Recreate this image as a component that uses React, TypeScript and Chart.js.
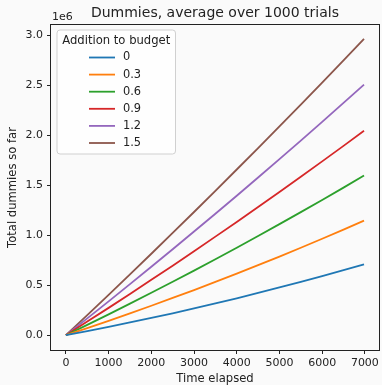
import React, { useEffect, useRef } from "react";
import { Chart, registerables } from "chart.js";

Chart.register(...registerables);

// Time steps (x) and average totals in millions (y)
const timeSteps = [0, 500, 1000, 1500, 2000, 2500, 3000, 3500, 4000, 4500, 5000, 5500, 6000, 6500, 6980];
const budget0 = [0, 0.041, 0.083, 0.127, 0.172, 0.219, 0.268, 0.318, 0.369, 0.422, 0.477, 0.533, 0.591, 0.650, 0.708];
const budget03 = [0, 0.071, 0.143, 0.218, 0.294, 0.372, 0.451, 0.532, 0.615, 0.700, 0.786, 0.874, 0.964, 1.055, 1.145];
const budget06 = [0, 0.103, 0.208, 0.315, 0.424, 0.534, 0.645, 0.759, 0.874, 0.991, 1.110, 1.230, 1.352, 1.475, 1.596];
const budget09 = [0, 0.136, 0.273, 0.412, 0.553, 0.695, 0.839, 0.985, 1.132, 1.281, 1.431, 1.583, 1.737, 1.892, 2.043];
const budget12 = [0, 0.168, 0.338, 0.510, 0.684, 0.859, 1.036, 1.214, 1.394, 1.576, 1.760, 1.945, 2.132, 2.321, 2.504];
const budget15 = [0, 0.201, 0.403, 0.608, 0.814, 1.022, 1.231, 1.443, 1.656, 1.870, 2.087, 2.305, 2.525, 2.747, 2.962];

const seriesLabels = ["0", "0.3", "0.6", "0.9", "1.2", "1.5"];
const seriesValues = [budget0, budget03, budget06, budget09, budget12, budget15];
const seriesColors = ["#1f77b4", "#ff7f0e", "#2ca02c", "#d62728", "#9467bd", "#8c564b"];

const xTickValues = [0, 1000, 2000, 3000, 4000, 5000, 6000, 7000];
const yTickValues = [0, 0.5, 1.0, 1.5, 2.0, 2.5, 3.0];

const titleText = "Dummies, average over 1000 trials";
const xLabel = "Time elapsed";
const yLabel = "Total dummies so far";
const legendTitle = "Addition to budget";
const offsetText = "1e6";

const FONT = "'DejaVu Sans', sans-serif";
const BG = "#fafafa";
const INK = "#222222";

const decorPlugin = {
  id: "decor",
  beforeDraw(chart: any) {
    const { ctx, width, height } = chart;
    ctx.save();
    ctx.fillStyle = BG;
    ctx.fillRect(0, 0, width, height);
    ctx.restore();
  },
  afterDraw(chart: any) {
    const { ctx, chartArea } = chart;
    const { left, right, top, bottom } = chartArea;
    ctx.save();
    // spines
    ctx.strokeStyle = INK;
    ctx.lineWidth = 1;
    ctx.strokeRect(Math.round(left) - 0.5, Math.round(top) - 0.5, Math.round(right - left) + 1, Math.round(bottom - top) + 1);

    // title
    ctx.fillStyle = INK;
    ctx.font = `14px ${FONT}`;
    ctx.textAlign = "center";
    ctx.textBaseline = "middle";
    ctx.fillText(titleText, (left + right) / 2, 13);

    // offset text
    ctx.font = `11px ${FONT}`;
    ctx.textAlign = "left";
    ctx.fillText(offsetText, left + 1, 17);

    // x label
    ctx.font = `11.6px ${FONT}`;
    ctx.textAlign = "center";
    ctx.fillText(xLabel, (left + right) / 2, 379);

    // y label
    ctx.save();
    ctx.translate(13, (top + bottom) / 2);
    ctx.rotate(-Math.PI / 2);
    ctx.fillText(yLabel, 0, 0);
    ctx.restore();

    // legend
    const lx = 57, ly = 30, lw = 118.5, lh = 124, r = 3;
    ctx.beginPath();
    ctx.moveTo(lx + r, ly);
    ctx.lineTo(lx + lw - r, ly);
    ctx.arcTo(lx + lw, ly, lx + lw, ly + r, r);
    ctx.lineTo(lx + lw, ly + lh - r);
    ctx.arcTo(lx + lw, ly + lh, lx + lw - r, ly + lh, r);
    ctx.lineTo(lx + r, ly + lh);
    ctx.arcTo(lx, ly + lh, lx, ly + lh - r, r);
    ctx.lineTo(lx, ly + r);
    ctx.arcTo(lx, ly, lx + r, ly, r);
    ctx.closePath();
    ctx.fillStyle = "rgba(255,255,255,0.8)";
    ctx.fill();
    ctx.strokeStyle = "#d0d0d0";
    ctx.lineWidth = 1;
    ctx.stroke();

    ctx.fillStyle = INK;
    ctx.font = `11.6px ${FONT}`;
    ctx.textAlign = "center";
    ctx.textBaseline = "middle";
    ctx.fillText(legendTitle, lx + lw / 2, 41);
    ctx.font = `11.4px ${FONT}`;
    ctx.textAlign = "left";
    seriesLabels.forEach((lab, i) => {
      const y = 57.5 + i * 17.1;
      ctx.strokeStyle = seriesColors[i];
      ctx.lineWidth = 1.8;
      ctx.beginPath();
      ctx.moveTo(89, y);
      ctx.lineTo(115, y);
      ctx.stroke();
      ctx.fillStyle = INK;
      ctx.fillText(lab, 123, y);
    });
    ctx.restore();
  },
};

export default function App() {
  const canvasRef = useRef<HTMLCanvasElement>(null);

  useEffect(() => {
    document.body.style.margin = "0";
    const canvas = canvasRef.current;
    if (!canvas) return;

    const datasets = seriesValues.map((vals, i) => ({
      label: seriesLabels[i],
      data: timeSteps.map((t, j) => ({ x: t, y: vals[j] })),
      borderColor: seriesColors[i],
      backgroundColor: seriesColors[i],
      borderWidth: 1.8,
      pointRadius: 0,
      tension: 0,
      fill: false,
    }));

    const chart = new Chart(canvas, {
      type: "line",
      data: { datasets },
      plugins: [decorPlugin],
      options: {
        animation: false,
        responsive: false,
        devicePixelRatio: 1,
        layout: { padding: { top: 25, right: 3, left: 0, bottom: 0 } },
        plugins: {
          legend: { display: false },
          title: { display: false },
          tooltip: { enabled: false },
        },
        scales: {
          x: {
            type: "linear",
            min: -349,
            max: 7329,
            afterFit: (scale: any) => {
              scale.height = 35;
            },
            afterBuildTicks: (scale: any) => {
              scale.ticks = xTickValues.map((v) => ({ value: v }));
            },
            grid: {
              display: true,
              drawOnChartArea: false,
              drawTicks: true,
              tickLength: 4,
              color: INK,
            },
            border: { display: false },
            ticks: {
              color: INK,
              font: { family: FONT, size: 11 },
              padding: 3,
              maxRotation: 0,
              autoSkip: false,
              callback: (v: any) => String(v),
            },
          },
          y: {
            type: "linear",
            min: -0.148,
            max: 3.1,
            afterFit: (scale: any) => {
              scale.width = 51;
            },
            afterBuildTicks: (scale: any) => {
              scale.ticks = yTickValues.map((v) => ({ value: v }));
            },
            grid: {
              display: true,
              drawOnChartArea: false,
              drawTicks: true,
              tickLength: 4,
              color: INK,
            },
            border: { display: false },
            ticks: {
              color: INK,
              font: { family: FONT, size: 11 },
              padding: 4,
              autoSkip: false,
              callback: (v: any) => Number(v).toFixed(1),
            },
          },
        },
      },
    });
    return () => chart.destroy();
  }, []);

  return (
    <div style={{ width: 382, height: 385 }}>
      <canvas ref={canvasRef} width={382} height={385} style={{ display: "block" }} />
    </div>
  );
}
